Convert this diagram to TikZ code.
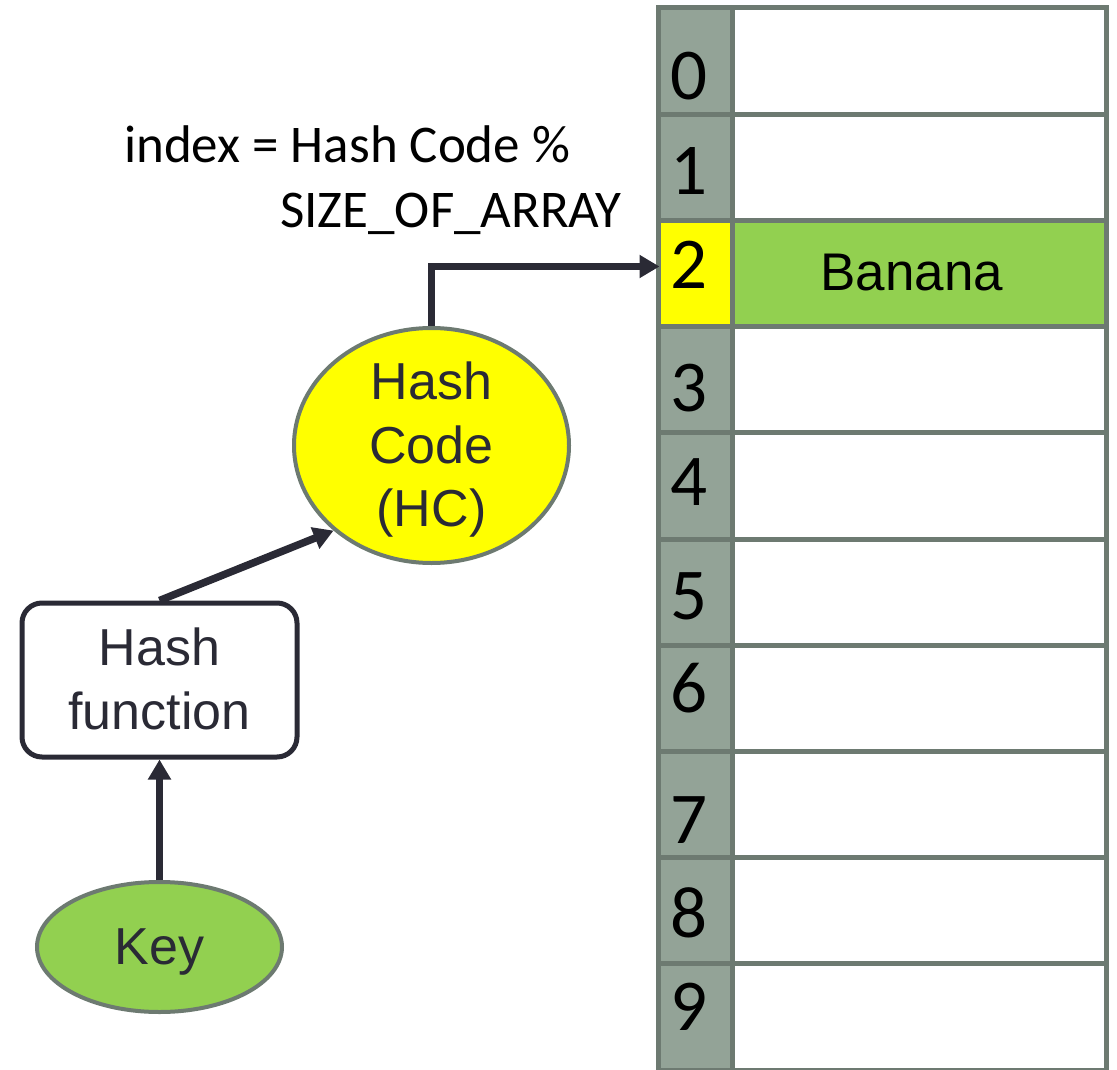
\documentclass[tikz,border=0pt]{standalone}
\usepackage{fontspec}
\setmainfont{Carlito}
\newfontfamily\arialf{Liberation Sans}
\usetikzlibrary{arrows.meta,shapes.geometric}
\definecolor{cellborder}{HTML}{6D7A71}
\definecolor{idxfill}{HTML}{93A397}
\definecolor{hlyellow}{HTML}{FFFF00}
\definecolor{hlgreen}{HTML}{92D050}
\definecolor{inkdark}{HTML}{2A2A35}
\begin{document}
\begin{tikzpicture}[x=1pt,y=-1pt,
  idxcell/.style={draw=cellborder,line width=5pt,minimum width=74pt,minimum height=106.2pt,inner sep=0pt},
  datacell/.style={draw=cellborder,line width=5pt,minimum width=374.5pt,minimum height=106.2pt,inner sep=0pt},
  digit/.style={font=\fontsize{73}{73}\selectfont,anchor=base,inner sep=0pt},
  arrowline/.style={draw=inkdark,line width=7.5pt,-{Triangle[length=20pt,width=22pt]}},
  shapetext/.style={font=\arialf\fontsize{52}{63.5}\selectfont,text=inkdark,align=center,inner sep=0pt},
  formula/.style={font=\fontsize{53}{53}\selectfont,anchor=base west,inner sep=0pt},
  shapeline/.style={draw=cellborder,line width=4pt,inner sep=0pt}
]
\useasboundingbox (0,0) rectangle (1117,1070);

% array rows
\foreach \i/\fa/\fb in {0/idxfill/white,1/idxfill/white,2/hlyellow/hlgreen,3/idxfill/white,4/idxfill/white,5/idxfill/white,6/idxfill/white,7/idxfill/white,8/idxfill/white,9/idxfill/white}{
  \node[idxcell,fill=\fa] (i\i) at (695,{61.1+106.2*\i}) {};
  \node[datacell,fill=\fb] (c\i) at (919.25,{61.1+106.2*\i}) {};
}
\foreach \i/\b in {0/100,1/195,2/288,3/411.7,4/505,5/619,6/712.7,7/843,8/937,9/1030}{
  \node[digit] (d\i) at (689,\b) {\i};
}
\node[font=\arialf\fontsize{53}{53}\selectfont,anchor=base,inner sep=0pt] (banana) at (912,290) {Banana};

% formula
\node[formula] (f1) at (124,162.5) {index = Hash Code \%};
\node[formula] (f2) at (280,227) {SIZE\_OF\_ARRAY};

% hash code ellipse
\node[ellipse,shapeline,fill=hlyellow,minimum width=275pt,minimum height=235pt] (hc) at (431.5,445.5) {};
\node[shapetext] (hctext) at (431.5,450) {Hash\\Code\\(HC)};

% hash function box
\node[draw=inkdark,line width=5pt,rounded corners=20pt,minimum width=275pt,minimum height=154pt,inner sep=0pt] (hf) at (159.5,680) {};
\node[shapetext] (hftext) at (159.5,679) {Hash\\function};

% key ellipse
\node[ellipse,shapeline,fill=hlgreen,minimum width=245pt,minimum height=130pt] (key) at (159.5,947) {};
\node[shapetext] (keytext) at (159.5,952) {Key};

% arrows
\draw[arrowline] (key.north) -- (hf.south);
\draw[arrowline] (hf.north) -- (hc.221);
\draw[arrowline] (hc.north) |- ([xshift=4pt,yshift=7pt]i2.west);
\end{tikzpicture}
\end{document}
